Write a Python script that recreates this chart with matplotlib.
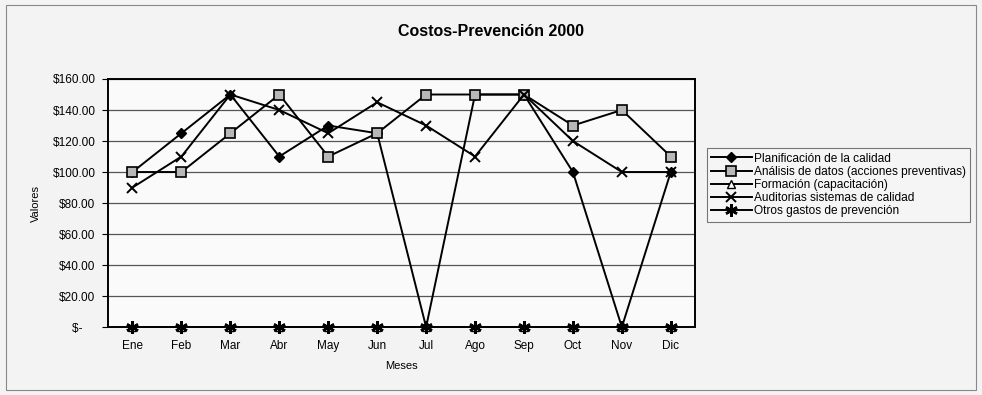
import numpy as np, matplotlib
matplotlib.use("Agg")
import matplotlib.pyplot as plt
from matplotlib.patches import Rectangle
from matplotlib.ticker import FuncFormatter

plt.rcParams['font.family'] = ['Liberation Sans', 'DejaVu Sans']

meses = ["Ene", "Feb", "Mar", "Abr", "May", "Jun", "Jul", "Ago", "Sep", "Oct", "Nov", "Dic"]
planificacion = [100, 125, 150, 110, 130, 125, 0, 150, 150, 100, 0, 100]
analisis = [100, 100, 125, 150, 110, 125, 150, 150, 150, 130, 140, 110]
formacion = [0] * 12
auditorias = [90, 110, 150, 140, 125, 145, 130, 110, 150, 120, 100, 100]
otros = [0] * 12

fig = plt.figure(figsize=(9.82, 3.95), dpi=100)
fig.patch.set_facecolor("#f3f3f3")
fig.add_artist(Rectangle((0.006, 0.012), 0.988, 0.975, transform=fig.transFigure,
                         fill=False, ec="#888888", lw=0.8))
ax = fig.add_axes([0.110, 0.172, 0.598, 0.628])
ax.set_facecolor("#fafafa")
x = np.arange(len(meses))

kw = dict(c="k", lw=1.4, clip_on=False)
ax.plot(x, planificacion, marker="D", ms=5, mfc="k", mec="k", label="Planificación de la calidad", zorder=3, **kw)
ax.plot(x, analisis, marker="s", ms=7, mfc="#b8b8b8", mec="k", mew=1.2, label="Análisis de datos (acciones preventivas)", zorder=3, **kw)
ax.plot(x, formacion, marker="^", ms=6, mfc="white", mec="k", label="Formación (capacitación)", zorder=3, **kw)
ax.plot(x, auditorias, marker="x", ms=7, mew=1.4, label="Auditorias sistemas de calidad", zorder=3, **kw)
ax.plot(x, otros, marker=(6, 2, 0), ms=9, mew=1.8, label="Otros gastos de prevención", zorder=4, **kw)

ax.set_xlim(-0.5, 11.5)
ax.set_ylim(0, 160)
ax.set_yticks(np.arange(0, 161, 20))
ax.yaxis.set_major_formatter(FuncFormatter(lambda v, p: "$-    " if v == 0 else f"${v:.2f}"))
ax.set_xticks(x)
ax.set_xticklabels(meses)
ax.tick_params(axis="y", length=4, width=0.8, labelsize=8.5, pad=5)
ax.tick_params(axis="x", length=0, labelsize=8.5, pad=9)
ax.grid(axis="y", color="#555555", lw=0.9)
ax.set_axisbelow(True)
for s in ax.spines.values():
    s.set_linewidth(1.4)

ax.set_ylabel("Valores", fontsize=8, labelpad=8)
ax.set_xlabel("Meses", fontsize=8, labelpad=7)
fig.text(0.5, 0.92, "Costos-Prevención 2000", ha="center", va="center", fontsize=11.5, fontweight="bold")

leg = ax.legend(loc="upper left", bbox_to_anchor=(1.02, 0.72), fontsize=8.6, frameon=True,
                fancybox=False, edgecolor="#555555", handlelength=3.4, labelspacing=0.1,
                borderpad=0.35, handletextpad=0.15, borderaxespad=0)
leg.get_frame().set_linewidth(0.8)
leg.get_frame().set_facecolor("#f6f6f6")

fig.savefig("out.png", dpi=100, facecolor=fig.get_facecolor())
